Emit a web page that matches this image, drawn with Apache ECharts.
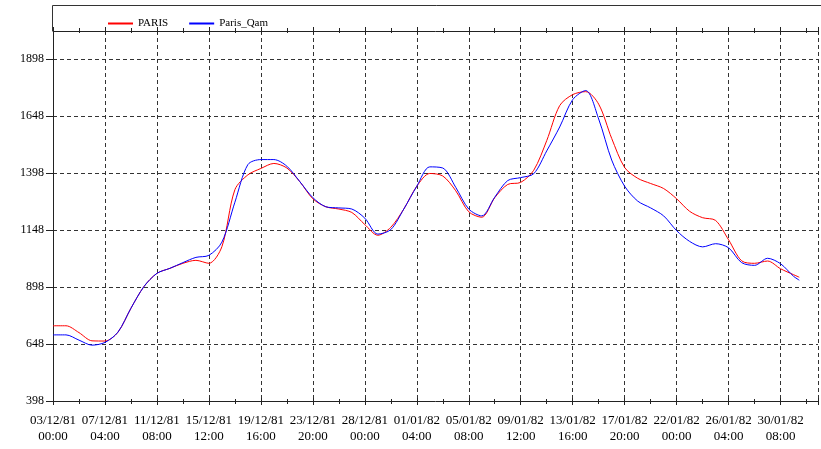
<!DOCTYPE html>
<html>
<head>
<meta charset="utf-8">
<script src="https://cdn.jsdelivr.net/npm/echarts@6/dist/echarts.min.js"></script>
<style>
  html, body { margin: 0; padding: 0; background: #fff; }
  #chart { width: 821px; height: 449px; }
</style>
</head>
<body>
<div id="chart"></div>
<script>
  // hours since 03/12/81 00:00
  var hours = [0, 25, 50, 75, 100, 125, 150, 175, 200, 225, 250, 275, 300, 325, 350, 375,
    400, 425, 450, 475, 500, 525, 550, 575, 600, 625, 650, 675, 700, 725, 750, 775,
    800, 825, 850, 875, 900, 925, 950, 975, 1000, 1025, 1050, 1075, 1100, 1125, 1150, 1175,
    1200, 1225, 1250, 1275, 1300, 1325, 1350, 1375, 1400, 1425, 1436]
  var paris = [728, 728, 698, 662, 661, 700, 805, 900, 958, 980, 1002, 1015, 1002, 1075, 1325, 1390,
    1418, 1440, 1420, 1360, 1285, 1250, 1240, 1225, 1172, 1125, 1160, 1240, 1340, 1396, 1385, 1320,
    1228, 1204, 1290, 1348, 1357, 1410, 1540, 1694, 1742, 1755, 1700, 1550, 1422, 1375, 1352, 1330,
    1285, 1230, 1202, 1190, 1105, 1013, 1002, 1012, 978, 952, 941]
  var parisQam = [688, 688, 665, 643, 655, 700, 805, 900, 958, 980, 1005, 1028, 1037, 1095, 1270, 1435,
    1457, 1457, 1428, 1360, 1290, 1250, 1245, 1240, 1200, 1130, 1150, 1240, 1340, 1425, 1420, 1335,
    1240, 1210, 1292, 1365, 1378, 1395, 1495, 1600, 1720, 1760, 1635, 1455, 1340, 1275, 1245, 1210,
    1145, 1098, 1074, 1088, 1070, 1005, 993, 1024, 1000, 945, 928]
  var xTickLabels = ['03/12/81\n00:00', '07/12/81\n04:00', '11/12/81\n08:00', '15/12/81\n12:00',
    '19/12/81\n16:00', '23/12/81\n20:00', '28/12/81\n00:00', '01/01/82\n04:00', '05/01/82\n08:00',
    '09/01/82\n12:00', '13/01/82\n16:00', '17/01/82\n20:00', '22/01/82\n00:00', '26/01/82\n04:00',
    '30/01/82\n08:00']
  var yTicks = [398, 648, 898, 1148, 1398, 1648, 1898]

  var font = 'Liberation Serif'
  var red = '#ff0000'
  var blue = '#0000ff'

  function pairs (vals) {
    return hours.map(function (h, i) { return [h, vals[i]] })
  }

  function xLabel (v) {
    if (v % 100 !== 0) return ''
    return xTickLabels[v / 100] || ''
  }

  var xBase = {
    type: 'value',
    min: 0,
    max: 1472,
    interval: 100
  }

  var option = {
    animation: false,
    backgroundColor: '#fff',
    textStyle: { fontFamily: font },
    legend: {
      left: 103,
      top: 13,
      icon: 'rect',
      itemWidth: 25,
      itemHeight: 2,
      itemGap: 21,
      textStyle: { fontFamily: font, fontSize: 11, color: '#000' },
      data: [
        { name: 'PARIS', itemStyle: { color: red } },
        { name: 'Paris_Qam', itemStyle: { color: blue } }
      ]
    },
    grid: { left: 53, right: 0, top: 31, bottom: 48 },
    graphic: [
      {
        type: 'polyline',
        shape: { points: [[52.5, 31], [52.5, 5.5], [821, 5.5]] },
        style: { stroke: '#333', lineWidth: 1, fill: null }
      }
    ],
    xAxis: [
      Object.assign({}, xBase, {
        position: 'bottom',
        axisLine: { lineStyle: { color: '#222', width: 1 } },
        axisTick: { length: 4, lineStyle: { color: '#222' } },
        minorTick: { show: true, splitNumber: 2, length: 3, lineStyle: { color: '#222' } },
        axisLabel: {
          formatter: xLabel,
          color: '#000',
          fontFamily: font,
          fontSize: 13,
          lineHeight: 16,
          margin: 12,
          hideOverlap: false
        },
        splitLine: { show: true, lineStyle: { color: '#333', type: [4, 3], width: 1 } }
      }),
      Object.assign({}, xBase, {
        position: 'bottom',
        axisLine: { show: false },
        axisTick: { inside: true, length: 3, lineStyle: { color: '#222' } },
        minorTick: { show: true, splitNumber: 2, length: 2, lineStyle: { color: '#222' } },
        axisLabel: { show: false },
        splitLine: { show: false }
      }),
      Object.assign({}, xBase, {
        position: 'top',
        axisLine: { lineStyle: { color: '#222', width: 1 } },
        axisTick: { length: 4, lineStyle: { color: '#222' } },
        minorTick: { show: true, splitNumber: 2, length: 3, lineStyle: { color: '#222' } },
        axisLabel: { show: false },
        splitLine: { show: false }
      }),
      Object.assign({}, xBase, {
        position: 'top',
        axisLine: { show: false },
        axisTick: { inside: true, length: 3, lineStyle: { color: '#222' } },
        minorTick: { show: true, splitNumber: 2, length: 2, lineStyle: { color: '#222' } },
        axisLabel: { show: false },
        splitLine: { show: false }
      })
    ],
    yAxis: {
      type: 'value',
      min: 398,
      max: 2021,
      axisLine: { show: true, lineStyle: { color: '#222', width: 1 } },
      axisTick: { show: true, length: 7, customValues: yTicks, lineStyle: { color: '#222' } },
      axisLabel: {
        customValues: yTicks,
        formatter: function (v) { return String(v) },
        color: '#000',
        fontFamily: font,
        fontSize: 12,
        margin: 9
      },
      splitLine: { show: true, lineStyle: { color: '#333', type: [4, 3], width: 1 } }
    },
    series: [
      {
        name: 'PARIS',
        type: 'line',
        xAxisIndex: 0,
        data: pairs(paris),
        smooth: 0.3,
        showSymbol: false,
        symbol: 'none',
        lineStyle: { color: red, width: 1 },
        itemStyle: { color: red }
      },
      {
        name: 'Paris_Qam',
        type: 'line',
        xAxisIndex: 0,
        data: pairs(parisQam),
        smooth: 0.3,
        showSymbol: false,
        symbol: 'none',
        lineStyle: { color: blue, width: 1 },
        itemStyle: { color: blue }
      }
    ]
  }

  var chart = echarts.init(document.getElementById('chart'))
  chart.setOption(option)
  window.addEventListener('resize', function () {
    chart.resize()
  })
</script>
</body>
</html>
